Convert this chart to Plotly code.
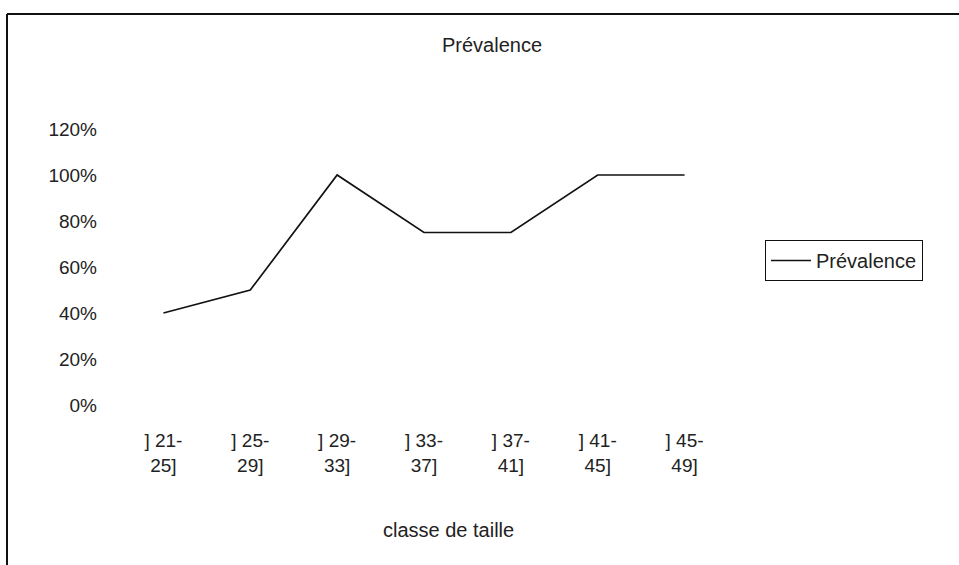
import plotly.graph_objects as go

# Size classes (tick labels) and prevalence per class
classes = ["] 21-<br>25]", "] 25-<br>29]", "] 29-<br>33]", "] 33-<br>37]",
           "] 37-<br>41]", "] 41-<br>45]", "] 45-<br>49]"]
prevalence = [0.40, 0.50, 1.00, 0.75, 0.75, 1.00, 1.00]
y_ticks = [0, 0.2, 0.4, 0.6, 0.8, 1.0, 1.2]
y_tick_text = ["0%", "20%", "40%", "60%", "80%", "100%", "120%"]

W, H = 959, 565
L, R, T, B = 120, 231, 129, 160
PW, PH = W - L - R, H - T - B

def px_x(x):
    return (x - L) / PW

def px_y(y):
    return (H - B - y) / PH

font = dict(family="Liberation Sans, Arial, sans-serif", size=19, color="#222")
title_font = dict(family="Liberation Sans, Arial, sans-serif", size=20, color="#222")

fig = go.Figure()
fig.add_trace(go.Scatter(
    x=classes, y=prevalence, mode="lines", name="Prévalence",
    line=dict(color="#111", width=1.7),
))

fig.update_layout(
    width=W, height=H,
    margin=dict(l=L, r=R, t=T, b=B),
    paper_bgcolor="white", plot_bgcolor="white",
    font=font,
    showlegend=True,
    legend=dict(
        x=px_x(765), y=px_y(240), xanchor="left", yanchor="top",
        bordercolor="#111", borderwidth=1, bgcolor="white",
        font=title_font, itemwidth=40,
    ),
    xaxis=dict(
        type="category", range=[-0.5, 6.5],
        showgrid=False, showline=False, zeroline=False,
        ticks="", ticklabelstandoff=22, tickfont=font,
    ),
    yaxis=dict(
        range=[0, 1.2], tickvals=y_ticks, ticktext=y_tick_text,
        showgrid=False, showline=False, zeroline=False,
        ticks="", ticklabelstandoff=22, tickfont=font,
    ),
    annotations=[
        dict(text="Prévalence", x=px_x(492), y=px_y(45), xref="paper", yref="paper",
             xanchor="center", yanchor="middle", showarrow=False, font=title_font),
        dict(text="classe de taille", x=px_x(448), y=px_y(530), xref="paper", yref="paper",
             xanchor="center", yanchor="middle", showarrow=False, font=title_font),
    ],
    shapes=[
        # chart area frame (top and left edges visible)
        dict(type="line", xref="paper", yref="paper",
             x0=px_x(7), y0=px_y(14), x1=px_x(W + 5), y1=px_y(14),
             line=dict(color="#111", width=2)),
        dict(type="line", xref="paper", yref="paper",
             x0=px_x(7), y0=px_y(14), x1=px_x(7), y1=px_y(H + 5),
             line=dict(color="#111", width=2)),
    ],
)

fig.write_html("out.html")
